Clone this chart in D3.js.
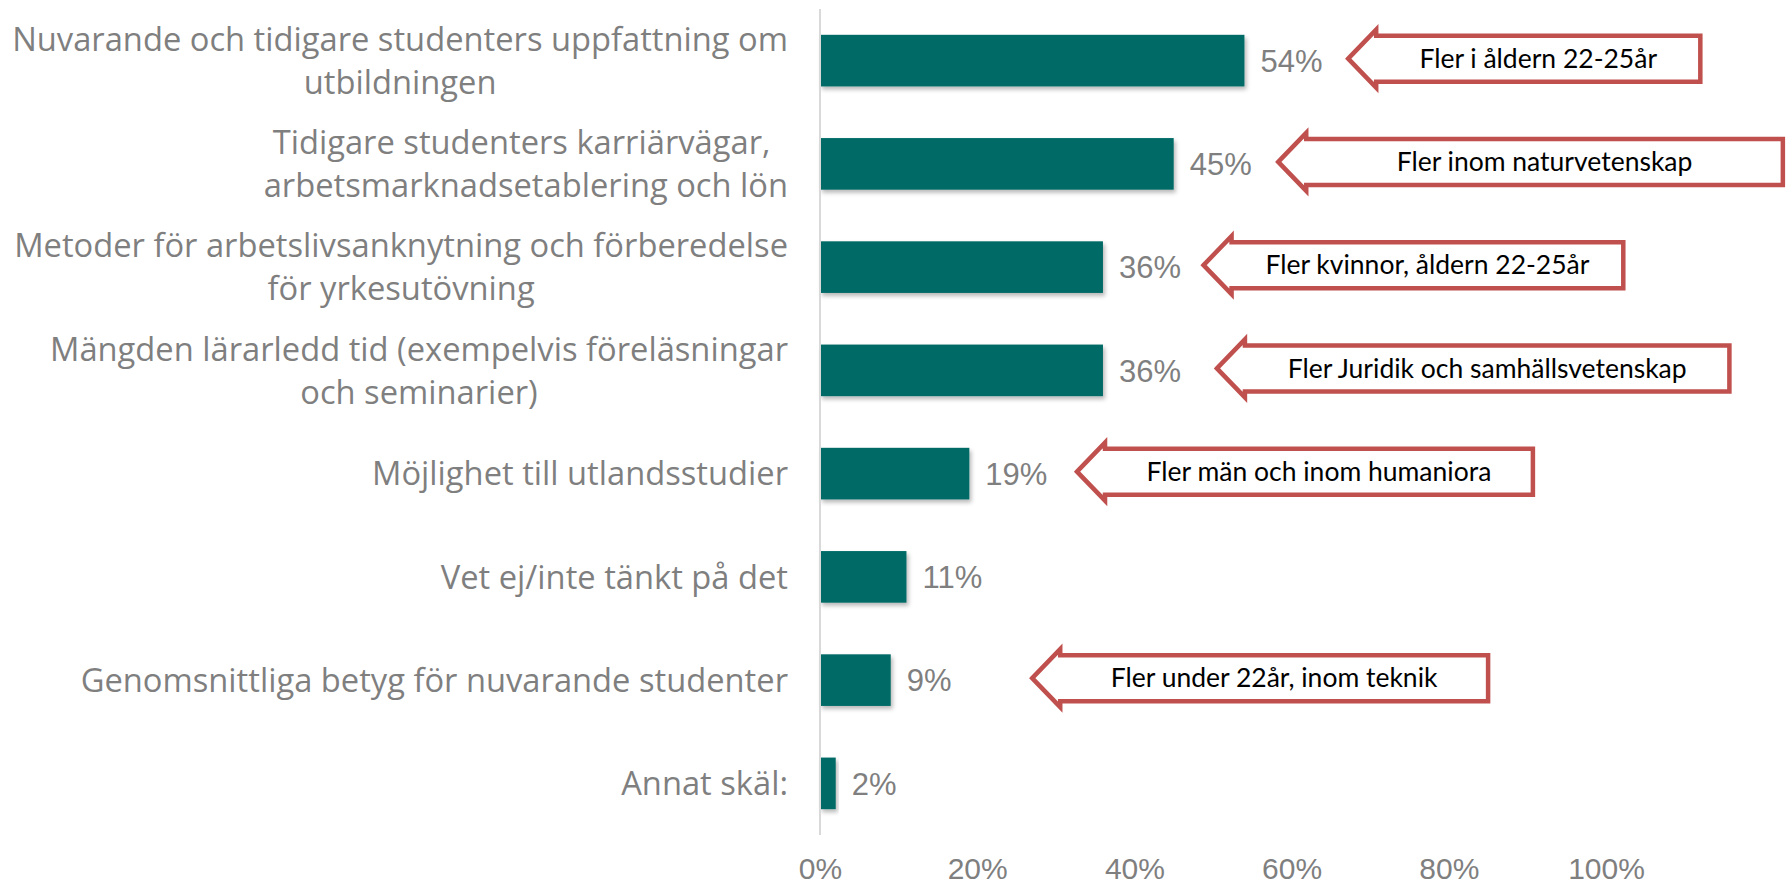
<!DOCTYPE html>
<html>
<head>
<meta charset="utf-8">
<script src="https://cdn.jsdelivr.net/npm/d3@7"></script>
<style>
  html, body { margin: 0; padding: 0; background: #fff; }
  svg { display: block; }
</style>
</head>
<body>
<svg id="chart" width="1787" height="887"></svg>
<script>
// categories (each entry = lines of the label)
const categories = [
  ["Nuvarande och tidigare studenters uppfattning om", "utbildningen"],
  ["Tidigare studenters karriärvägar, ", "arbetsmarknadsetablering och lön"],
  ["Metoder för arbetslivsanknytning och förberedelse", "för yrkesutövning"],
  ["Mängden lärarledd tid (exempelvis föreläsningar", "och seminarier)"],
  ["Möjlighet till utlandsstudier"],
  ["Vet ej/inte tänkt på det"],
  ["Genomsnittliga betyg för nuvarande studenter"],
  ["Annat skäl:"]
];
const values = [0.54, 0.45, 0.36, 0.36, 0.19, 0.11, 0.09, 0.02];
const tickValues = [0, 0.2, 0.4, 0.6, 0.8, 1.0];

// callouts: which bar, text, arrow tip and right edge in axis units
const calloutIndex = [0, 1, 2, 3, 4, 6];
const calloutText = [
  "Fler i åldern 22-25år",
  "Fler inom naturvetenskap",
  "Fler kvinnor, åldern 22-25år",
  "Fler Juridik och samhällsvetenskap",
  "Fler män och inom humaniora",
  "Fler under 22år, inom teknik"
];
const calloutTip = [0.672, 0.583, 0.488, 0.505, 0.327, 0.270];
const calloutEnd = [1.120, 1.225, 1.022, 1.157, 0.907, 0.850];

const svg = d3.select("#chart");
const keys = categories.map((c, i) => i);

const x = d3.scaleLinear().domain([0, 1]).range([820, 1606]);
const y = d3.scaleBand().domain(keys).range([9, 835]).paddingInner(0.5).paddingOuter(0.25);

const defs = svg.append("defs");
const shadow = defs.append("filter").attr("id", "shadow")
  .attr("x", "-10%").attr("y", "-20%").attr("width", "130%").attr("height", "160%");
shadow.append("feDropShadow")
  .attr("dx", 2).attr("dy", 3).attr("stdDeviation", 2)
  .attr("flood-color", "#000").attr("flood-opacity", 0.28);

// bars
svg.append("g").selectAll("rect")
  .data(values)
  .join("rect")
  .attr("x", x(0))
  .attr("y", (d, i) => y(i))
  .attr("width", d => x(d) - x(0))
  .attr("height", y.bandwidth())
  .attr("fill", "#006b66")
  .attr("filter", "url(#shadow)");

// vertical axis line
svg.append("line")
  .attr("x1", x(0)).attr("x2", x(0))
  .attr("y1", 9).attr("y2", 835)
  .attr("stroke", "#d9d9d9").attr("stroke-width", 2);

// value labels
svg.append("g").selectAll("text")
  .data(values)
  .join("text")
  .attr("x", d => x(d) + 16)
  .attr("y", (d, i) => y(i) + y.bandwidth() / 2)
  .attr("dy", "0.36em")
  .attr("font-family", "Liberation Sans, Arial, sans-serif")
  .attr("font-size", 31)
  .attr("fill", "#7f7f7f")
  .text(d => Math.round(d * 100) + "%");

// x axis tick labels
const xAxis = d3.axisBottom(x)
  .tickValues(tickValues)
  .tickSize(0)
  .tickPadding(0)
  .tickFormat(d3.format(".0%"));

const gx = svg.append("g")
  .attr("transform", "translate(0,857)")
  .call(xAxis);
gx.select(".domain").remove();
gx.selectAll("text")
  .attr("font-family", "Liberation Sans, Arial, sans-serif")
  .attr("font-size", 30)
  .attr("fill", "#7f7f7f")
  .attr("dy", "0.72em");

// category labels, centred blocks right-aligned to the axis
const labelRight = 788;
const lineH = 43;
const labels = svg.append("g")
  .attr("font-family", "Open Sans, sans-serif")
  .attr("font-size", 32.7)
  .attr("fill", "#7f7f7f");

categories.forEach((lines, i) => {
  const cy = y(i) + y.bandwidth() / 2;
  const t = labels.append("text").attr("text-anchor", "middle");
  const spans = lines.map((ln, j) =>
    t.append("tspan")
      .attr("y", cy + (j - (lines.length - 1) / 2) * lineH)
      .attr("dy", "0.36em")
      .attr("xml:space", "preserve")
      .style("white-space", "pre")
      .text(ln));
  const maxW = d3.max(spans, s => s.node().getComputedTextLength());
  spans.forEach(s => s.attr("x", labelRight - maxW / 2));
});

// callouts (left arrow shapes)
const bodyH = 46, headExtra = 6, headLen = 28;
const callouts = svg.append("g");
calloutIndex.forEach((ci, k) => {
  const cy = y(ci) + y.bandwidth() / 2 - 2;
  const tip = x(calloutTip[k]);
  const hx = tip + headLen;
  const right = x(calloutEnd[k]);
  const top = cy - bodyH / 2, bot = cy + bodyH / 2;
  const pts = [
    [tip, cy], [hx, top - headExtra], [hx, top], [right, top],
    [right, bot], [hx, bot], [hx, bot + headExtra]
  ];
  callouts.append("path")
    .attr("d", d3.line()(pts) + "Z")
    .attr("fill", "#fff")
    .attr("stroke", "#c0504d")
    .attr("stroke-width", 4.5)
    .attr("stroke-linejoin", "miter");
  callouts.append("text")
    .attr("x", (hx + right) / 2)
    .attr("y", cy)
    .attr("dy", "0.35em")
    .attr("text-anchor", "middle")
    .attr("font-family", "Lato, sans-serif")
    .attr("font-size", 26.5)
    .attr("fill", "#000")
    .text(calloutText[k]);
});
</script>
</body>
</html>
